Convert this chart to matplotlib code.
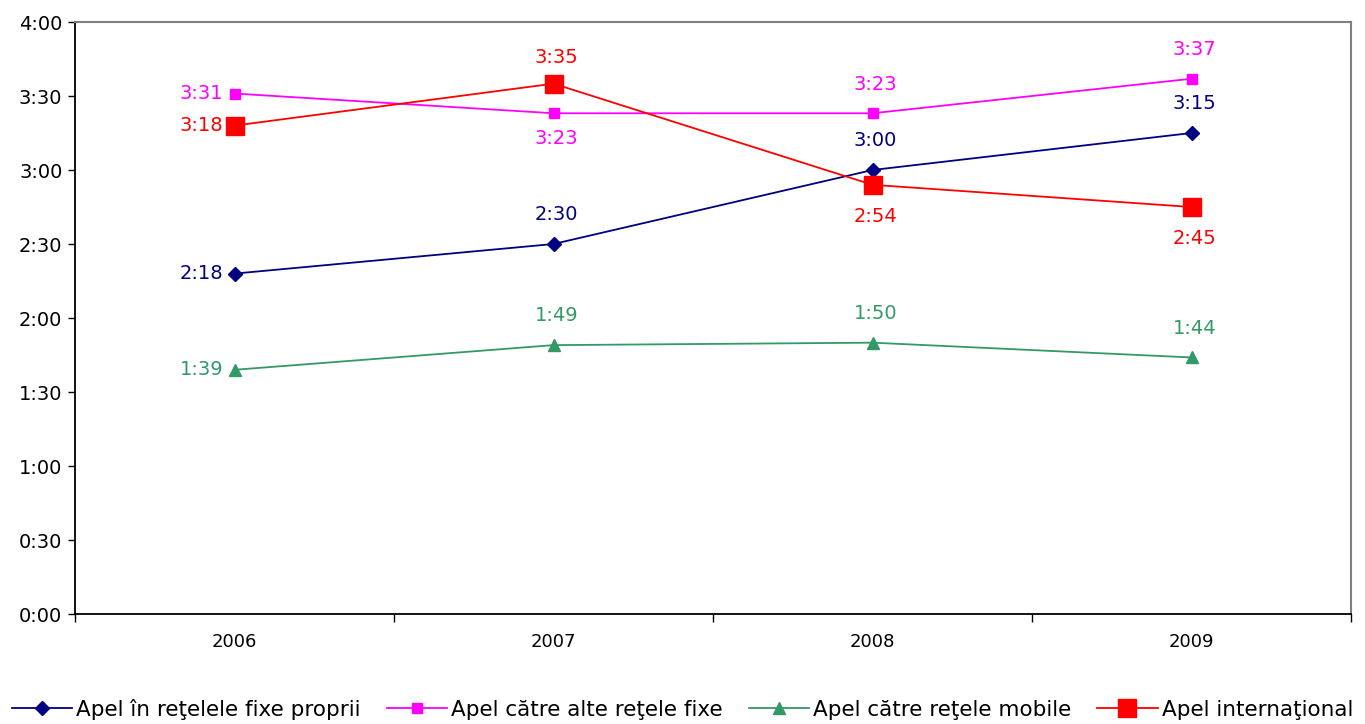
import matplotlib
matplotlib.use("Agg")
import matplotlib.pyplot as plt
from matplotlib.ticker import FixedLocator, FuncFormatter

years = ["2006", "2007", "2008", "2009"]
series_names = ["Apel în reţelele fixe proprii", "Apel către alte reţele fixe",
                "Apel către reţele mobile", "Apel internaţional"]
# values in seconds
fixe_proprii = [138, 150, 180, 195]
alte_fixe = [211, 203, 203, 217]
mobile = [99, 109, 110, 104]
international = [198, 215, 174, 165]

# label placement per point
pos_fixe_proprii = ["left", "above", "above", "above"]
pos_alte_fixe = ["left", "below", "above", "above"]
pos_mobile = ["left", "above", "above", "above"]
pos_international = ["left", "above", "below", "below"]

colors = ["#000080", "#FF00FF", "#339966", "#FF0000"]
markers = ["D", "s", "^", "s"]
msizes = [7.5, 7, 8, 13]

fig = plt.figure(figsize=(13.65, 7.24), dpi=100)
ax = fig.add_axes([75/1365, 110/724, (1351-75)/1365, (614-22)/724])

x = list(range(len(years)))
data = [fixe_proprii, alte_fixe, mobile, international]
positions = [pos_fixe_proprii, pos_alte_fixe, pos_mobile, pos_international]

def fmt(s):
    s = int(round(s))
    return f"{s // 60}:{s % 60:02d}"

for vals, name, c, m, ms, poss in zip(data, series_names, colors, markers, msizes, positions):
    ax.plot(x, vals, color=c, marker=m, markersize=ms, lw=1.3, label=name,
            markeredgecolor=c, clip_on=False)
    for xi, v, p in zip(x, vals, poss):
        if p == "left":
            ax.annotate(fmt(v), (xi, v), xytext=(-8, 0), textcoords="offset points",
                        ha="right", va="center", color=c, fontsize=14)
        elif p == "above":
            off = 19 if ms > 10 else 21
            ax.annotate(fmt(v), (xi, v), xytext=(2, off), textcoords="offset points",
                        ha="center", va="center", color=c, fontsize=14)
        else:
            off = -23 if ms > 10 else -18
            ax.annotate(fmt(v), (xi, v), xytext=(2, off), textcoords="offset points",
                        ha="center", va="center", color=c, fontsize=14)

ax.set_xlim(-0.5, len(years) - 0.5)
ax.set_ylim(0, 240)
ax.yaxis.set_major_locator(FixedLocator(range(0, 241, 30)))
ax.yaxis.set_major_formatter(FuncFormatter(lambda v, p: fmt(v)))
ax.tick_params(axis="y", direction="out", length=5, width=1, labelsize=14, pad=4)

ax.xaxis.set_major_locator(FixedLocator([i - 0.5 for i in range(len(years) + 1)]))
ax.xaxis.set_major_formatter(FuncFormatter(lambda v, p: ""))
ax.xaxis.set_minor_locator(FixedLocator(x))
ax.set_xticklabels(years, minor=True)
ax.tick_params(axis="x", which="major", direction="out", length=6, width=1)
ax.tick_params(axis="x", which="minor", length=0, labelsize=13, pad=14)

for s in ["top", "right"]:
    ax.spines[s].set_color("#808080")
    ax.spines[s].set_linewidth(1.5)
for s in ["left", "bottom"]:
    ax.spines[s].set_color("black")
    ax.spines[s].set_linewidth(1.3)

fig.legend(loc="lower center", bbox_to_anchor=(0.5, -0.012), ncol=4, frameon=False,
           fontsize=15.5, handlelength=2.8, handletextpad=0.2, columnspacing=1.2,
           borderaxespad=0.2)

fig.savefig("out.png", dpi=100)
